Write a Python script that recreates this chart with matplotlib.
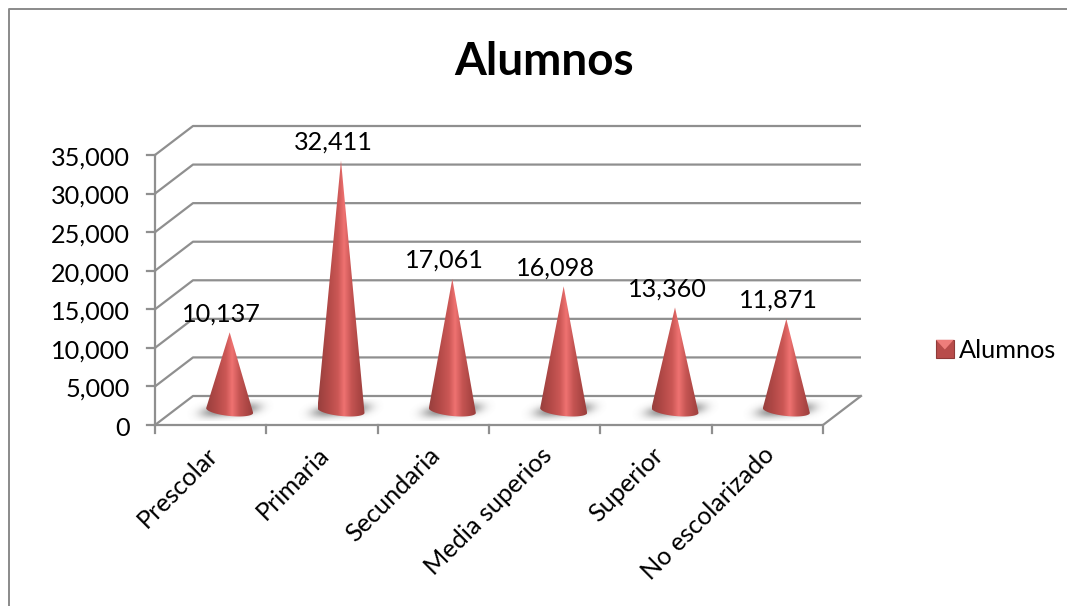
import numpy as np
import matplotlib
matplotlib.use("Agg")
import matplotlib.pyplot as plt
from matplotlib.colors import LinearSegmentedColormap
from matplotlib.patches import Polygon, Rectangle
from matplotlib.legend_handler import HandlerBase
from matplotlib.lines import Line2D

categories = ["Prescolar", "Primaria", "Secundaria", "Media superios", "Superior", "No escolarizado"]
alumnos = [10137, 32411, 17061, 16098, 13360, 11871]
y_ticks = [0, 5000, 10000, 15000, 20000, 25000, 30000, 35000]
series_name = "Alumnos"
title = "Alumnos"

plt.rcParams['font.family'] = ['Lato', 'DejaVu Sans']
FS = 18.2
W, H = 1067, 606
fig = plt.figure(figsize=(W/100, H/100), dpi=100, facecolor="white")
L, R, T, B = 155, 823, 155, 425
ax = fig.add_axes([L/W, 1-B/H, (R-L)/W, (B-T)/H])
ax.axis("off")
ymax = y_ticks[-1]
n = len(categories)
px_x = n/(R-L)
px_y = ymax/(B-T)
dx, dy = 38*px_x, 29*px_y
GRID = "#8f8f8f"
lw = 1.6

# chart frame
fig.add_artist(Line2D([8.5/W, 8.5/W, 1], [0, 1-8.5/H, 1-8.5/H], color="#8a8a8a", lw=1.4))

# walls and gridlines
for v in y_ticks:
    ax.plot([0, dx, n+dx], [v, v+dy, v+dy], color=GRID, lw=lw, clip_on=False, zorder=1, solid_capstyle="butt")
    ax.plot([-8*px_x, 0], [v, v], color=GRID, lw=lw, clip_on=False, zorder=1)
ax.plot([0, 0], [0, ymax], color=GRID, lw=lw, clip_on=False, zorder=1)
ax.plot([0, n, n+dx], [0, 0, dy], color=GRID, lw=lw, clip_on=False, zorder=1)
for i in range(n+1):
    ax.plot([i, i], [0, -8*px_y], color=GRID, lw=lw, clip_on=False, zorder=1)

# y labels
for v in y_ticks:
    ax.text(-25*px_x, v-3*px_y, f"{v:,}", ha="right", va="center", fontsize=FS, color="black", clip_on=False)

# cones
cone_cmap = LinearSegmentedColormap.from_list("cone", [
    (0, "#98403e"), (0.2, "#b04846"), (0.42, "#cb5755"), (0.56, "#ef7271"),
    (0.72, "#c45452"), (0.9, "#a94543"), (1, "#9a3f3d")])
shadow_cmap = LinearSegmentedColormap.from_list("sh", [(0.5, 0.5, 0.5, 0), (0.5, 0.5, 0.5, 0.9)])
hw, sb, tilt = 23.5*px_x, 5.5*px_y, 0.1*px_y/px_x
for i, (cat, val) in enumerate(zip(categories, alumnos)):
    cx = i+0.5+dx/2
    cy = dy/2
    tip = val+cy
    # floor shadow
    sw, sh = 44*px_x, 11*px_y
    xs = np.linspace(cx-sw, cx+sw, 120)
    ys = np.linspace(cy-sh, cy+sh, 40)
    X, Y = np.meshgrid(xs, ys)
    Z = np.exp(-(((X-cx)/(sw*0.66))**4 + ((Y-cy-(X-cx)*tilt*1.0)/(sh*0.55))**2))
    ax.imshow(Z, extent=[xs[0], xs[-1], ys[0], ys[-1]], origin="lower", aspect="auto",
              cmap=shadow_cmap, vmin=0, vmax=1, zorder=2, clip_on=False, interpolation="bilinear")
    # cone body
    t = np.linspace(np.pi, 2*np.pi, 50)
    ex = cx+hw*np.cos(t)
    ey = cy+sb*np.sin(t)-(hw*np.cos(t))*tilt
    poly = np.vstack([[cx, tip], np.column_stack([ex, ey])])
    grad = np.linspace(0, 1, 128)[None, :]
    im = ax.imshow(grad, extent=[cx-hw, cx+hw, cy-2*sb, tip], origin="lower", aspect="auto",
                   cmap=cone_cmap, vmin=0, vmax=1, zorder=3, clip_on=True, interpolation="bilinear")
    patch = Polygon(poly, closed=True, transform=ax.transData, fc="none", ec="none")
    ax.add_patch(patch)
    patch.set_clip_on(False)
    im.set_clip_path(patch)
    # value label
    ax.text(cx-8*px_x, tip+18.5*px_y, f"{val:,}", ha="center", va="center", fontsize=FS,
            color="black", zorder=5, clip_on=False)
    # category label
    ax.text(i+0.5-5*px_x, -18*px_y, cat, rotation=45, rotation_mode="anchor", ha="right", va="top",
            fontsize=FS, color="black", clip_on=False)

ax.set_xlim(0, n)
ax.set_ylim(0, ymax)

fig.text(544/W, 1-62/H, title, ha="center", va="center", fontsize=33, fontweight="bold", color="black")

class ConeKey(HandlerBase):
    def create_artists(self, legend, orig, xd, yd, w, h, fs, trans):
        s = Rectangle((-xd, -yd), w, h, fc="#b84c4a", ec="#8f3a38", lw=0.8, transform=trans)
        tri = Polygon([[-xd, h-yd], [-xd+w, h-yd], [-xd+w/2, h*0.45-yd]], closed=True,
                      fc="#ee7d7a", ec="none", transform=trans)
        return [s, tri]

handle = Rectangle((0, 0), 1, 1)
ax.legend([handle], [series_name], handler_map={Rectangle: ConeKey()},
          loc="center left", bbox_to_anchor=(936/W, 1-350/H), bbox_transform=fig.transFigure,
          frameon=False, fontsize=FS, handlelength=0.7, handleheight=0.7, handletextpad=0.22,
          borderpad=0, borderaxespad=0)

fig.savefig("out.png", dpi=100)
